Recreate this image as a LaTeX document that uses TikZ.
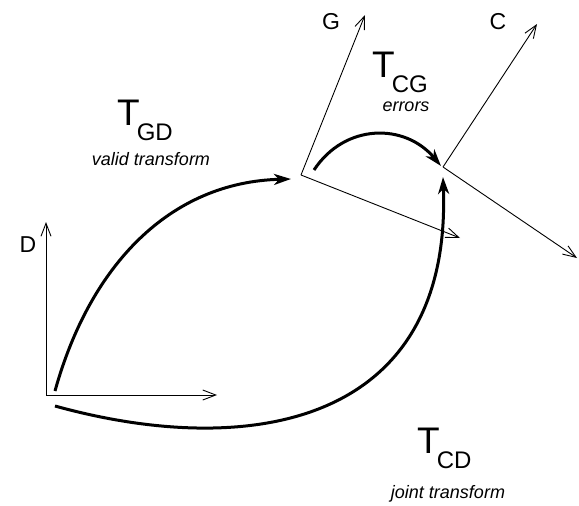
\documentclass[tikz,border=0pt]{standalone}
\usepackage{fontspec}
\setmainfont{Liberation Sans}
\usetikzlibrary{arrows.meta}
\tikzset{
  axis/.style={line width=0.9pt,-{Straight Barb[length=13pt,width=10pt,line width=0.9pt]}},
  xform/.style={line width=3pt,-{Stealth[length=17pt,width=11pt,inset=5pt]}},
  big/.style={font=\fontsize{37}{37}\selectfont,inner sep=0pt,anchor=base west},
  small/.style={font=\fontsize{18}{18}\selectfont\itshape,inner sep=0pt,anchor=base},
  axlbl/.style={font=\fontsize{23}{23}\selectfont,inner sep=0pt},
}
\newcommand{\tsub}[1]{T\kern-3pt\raisebox{-15pt}{\fontsize{24}{24}\selectfont #1}}
\begin{document}
\begin{tikzpicture}[x=1pt,y=-1pt]
\useasboundingbox (0,0) rectangle (579,506);
% frames
\coordinate (Do) at (46,395);
\coordinate (Dy) at (46,222);
\coordinate (Dx) at (217,395);
\coordinate (Go) at (301,175);
\coordinate (Gy) at (365,15);
\coordinate (Gx) at (460,238);
\coordinate (Co) at (443,167);
\coordinate (Cy) at (537,24);
\coordinate (Cx) at (577,258);
\draw[axis] (Do) -- (Dy);
\draw[axis] (Do) -- (Dx);
\draw[axis] (Go) -- (Gy);
\draw[axis] (Go) -- (Gx);
\draw[axis] (Co) -- (Cy);
\draw[axis] (Co) -- (Cx);
\node[axlbl] (lD) at (28,245) {D};
\node[axlbl] (lG) at (331,22) {G};
\node[axlbl] (lC) at (498,22) {C};
% transforms
\coordinate (gdS) at (55,391);
\coordinate (gdE) at (291,179);
\coordinate (cgS) at (314,170);
\coordinate (cgE) at (441,166);
\coordinate (cdS) at (55,406);
\coordinate (cdE) at (443,177);
\draw[xform] (gdS) .. controls (90,265) and (170,182) .. (gdE);
\draw[xform] (cgS) .. controls (345,123) and (405,123) .. (cgE);
\draw[xform] (cdS) .. controls (250,460) and (452,425) .. (cdE);
% labels
\node[big] (tGD) at (117,125) {\tsub{GD}};
\node[small] (vGD) at (151,165) {valid transform};
\node[big] (tCG) at (372,77) {\tsub{CG}};
\node[small] (vCG) at (406,111) {errors};
\node[big] (tCD) at (417,453) {\tsub{CD}};
\node[small] (vCD) at (448,498) {joint transform};
\end{tikzpicture}
\end{document}
